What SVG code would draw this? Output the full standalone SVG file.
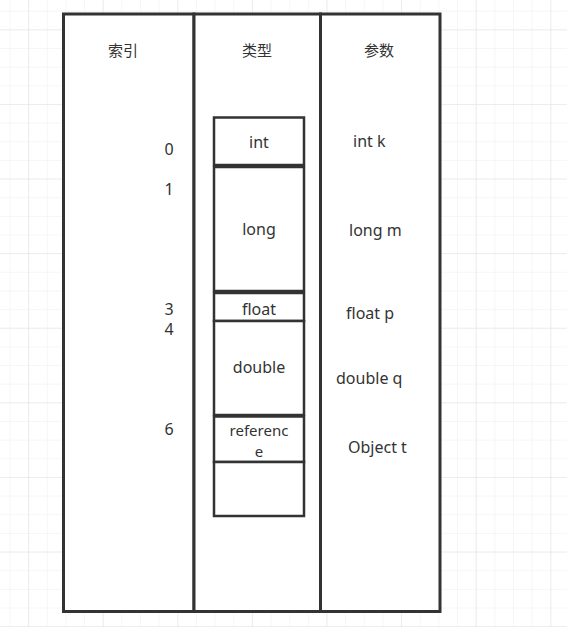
<svg xmlns="http://www.w3.org/2000/svg" width="567" height="627" viewBox="0 0 567 627">
  <defs>
    <pattern id="minor" x="9.45" y="10.7" width="18.65" height="18.65" patternUnits="userSpaceOnUse">
      <path d="M0 0 H18.65 M0 0 V18.65" fill="none" stroke="#ededed" stroke-width="1"/>
    </pattern>
    <pattern id="major" x="28.1" y="29.3" width="74.6" height="74.6" patternUnits="userSpaceOnUse">
      <path d="M0 0 H74.6 M0 0 V74.6" fill="none" stroke="#e2e2e2" stroke-width="1"/>
    </pattern>
    <style>
      .col { fill: #ffffff; stroke: #333333; stroke-width: 3; }
      .cell { fill: #ffffff; stroke: #333333; stroke-width: 2.5; }
      text { font-family: "Noto Sans", "Noto Sans CJK SC", "Liberation Sans", sans-serif; font-size: 16px; fill: #333333; }
      .c { text-anchor: middle; }
      .s { font-size: 15px; }
      .hdr { font-family: "Noto Sans CJK SC", "Noto Sans", sans-serif; font-size: 15px; text-anchor: middle; }
    </style>
  </defs>
  <rect width="567" height="627" fill="#ffffff"/>
  <rect width="567" height="627" fill="url(#minor)"/>
  <rect width="567" height="627" fill="url(#major)"/>

  <g id="col-index">
    <rect class="col" x="63.5" y="14" width="130.5" height="597.5"/>
    <text class="hdr" x="123" y="56">索引</text>
    <text class="c" x="169" y="155">0</text>
    <text class="c" x="169" y="195">1</text>
    <text class="c" x="169" y="315">3</text>
    <text class="c" x="169" y="335">4</text>
    <text class="c" x="169" y="435">6</text>
  </g>

  <g id="col-type">
    <rect class="col" x="194" y="14" width="126.5" height="597.5"/>
    <text class="hdr" x="257" y="56">类型</text>
  </g>

  <g id="col-param">
    <rect class="col" x="320.5" y="14" width="119.5" height="597.5"/>
    <text class="hdr" x="379" y="56">参数</text>
    <text x="353" y="147">int k</text>
    <text x="349" y="236">long m</text>
    <text x="346" y="319">float p</text>
    <text x="336" y="384">double q</text>
    <text x="348" y="453">Object t</text>
  </g>

  <g id="cell-int">
    <rect class="cell" x="214" y="117.5" width="90" height="47.5"/>
    <text class="c" x="259" y="148">int</text>
  </g>
  <g id="cell-long">
    <rect class="cell" x="214" y="167" width="90" height="124"/>
    <text class="c" x="259" y="235">long</text>
  </g>
  <g id="cell-float">
    <rect class="cell" x="214" y="293" width="90" height="28"/>
    <text class="c" x="259" y="315">float</text>
  </g>
  <g id="cell-double">
    <rect class="cell" x="214" y="321" width="90" height="94"/>
    <text class="c" x="259" y="373">double</text>
  </g>
  <g id="cell-reference">
    <rect class="cell" x="214" y="416.5" width="90" height="45.5"/>
    <text class="c s" x="259" y="436">referenc</text>
    <text class="c s" x="259" y="457">e</text>
  </g>
  <g id="cell-empty">
    <rect class="cell" x="214" y="462" width="90" height="54"/>
  </g>

  <g id="connectors"></g>
</svg>
